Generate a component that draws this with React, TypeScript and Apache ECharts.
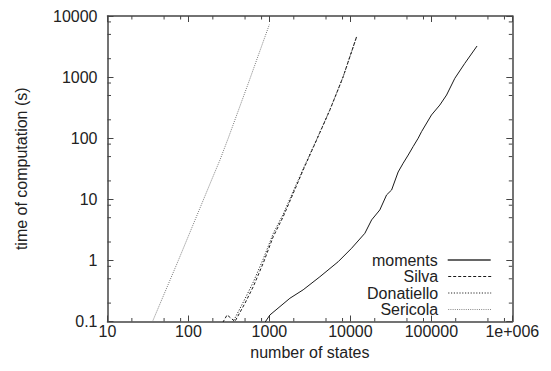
import React, { useEffect, useRef } from 'react';
import * as echarts from 'echarts';

const seriesNames = ['moments', 'Silva', 'Donatiello', 'Sericola'];

const momentsData: number[][] = [
  [800, 0.08], [1015, 0.128], [1790, 0.24], [2610, 0.33], [4200, 0.54], [7060, 0.95],
  [10350, 1.58], [15100, 2.78], [18300, 4.6], [23100, 6.7], [28000, 11.8], [32300, 14.2],
  [38900, 28], [44900, 39], [51800, 53], [59600, 73], [68800, 100], [75700, 128],
  [100400, 240], [127300, 349], [154200, 509], [195000, 955], [259000, 1680], [367000, 3230],
];
const silvaData: number[][] = [
  [200, 0.05], [300, 0.128], [375, 0.1], [499, 0.199], [631, 0.371], [838, 0.9],
  [1114, 2.44], [1479, 5.19], [1967, 12.5], [2612, 30.2], [3828, 93.5], [5585, 290],
  [8147, 1016], [11940, 4580],
];
const donatielloData: number[][] = [
  [350, 0.095], [499, 0.235], [631, 0.44], [838, 1.05], [1114, 2.75], [1479, 5.7],
  [1967, 13.5], [2612, 31.5], [3828, 95], [5585, 292], [8147, 1016], [11940, 4580],
];
const sericolaData: number[][] = [
  [36, 0.1], [75, 1.0], [193, 20.7], [245, 44], [310, 100], [550, 800], [1000, 7300],
];

const xTickLabels = ['10', '100', '1000', '10000', '100000', '1e+006'];
const yTickLabels = ['0.1', '1', '10', '100', '1000', '10000'];
const xMinorTicks = [20, 50, 80, 200, 500, 800, 2000, 5000, 8000, 20000, 50000, 80000, 200000, 500000, 800000];
const yMinorTicks = [0.2, 0.5, 0.8, 2, 5, 8, 20, 50, 80, 200, 500, 800, 2000, 5000, 8000];

const X_MIN = 10, X_MAX = 1000000, Y_MIN = 0.1, Y_MAX = 10000;
const FONT = '"Liberation Sans", Arial, sans-serif';
const AXIS_COLOR = '#444';
const TEXT_COLOR = '#222';

export default function App() {
  const ref = useRef<HTMLDivElement>(null);
  useEffect(() => {
    if (!ref.current) return;
    const chart = echarts.init(ref.current, undefined, { renderer: 'svg' });
    const axisLine = { show: true, onZero: false, lineStyle: { color: AXIS_COLOR, width: 1.5 } };
    const majorTick = { show: true, inside: true, length: 6, lineStyle: { color: AXIS_COLOR, width: 1 } };
    const xBase = { type: 'log', logBase: 10, min: X_MIN, max: X_MAX, splitLine: { show: false }, axisLine, axisTick: majorTick };
    const yBase = { type: 'log', logBase: 10, min: Y_MIN, max: Y_MAX, splitLine: { show: false }, axisLine, axisTick: majorTick };
    const lineColors = ['#1a1a1a', '#1a1a1a', '#2a2a2a', '#777'];
    const legendColors = ['#666', '#1a1a1a', '#2a2a2a', '#888'];
    const legendWidths = [2, 1, 1, 1];
    const lineTypes: any[] = ['solid', [3, 2], [1.2, 1.6], [1, 1.2]];
    const dataSets = [momentsData, silvaData, donatielloData, sericolaData];
    const legendTops = [252, 268.5, 285, 301.5];
    const option: any = {
      animation: false,
      grid: { left: 107.5, right: 38.7, top: 16, bottom: 49.5, show: false },
      legend: seriesNames.map((n, i) => ({
        data: [n], right: 59.3, top: legendTops[i], align: 'right', orient: 'vertical',
        itemWidth: 43, itemHeight: 12, padding: 0, selectedMode: false,
        itemStyle: { opacity: 0 },
        lineStyle: { width: legendWidths[i], color: legendColors[i], type: lineTypes[i] },
        formatter: (name: string) => `{t|${name}}`,
        textStyle: {
          fontSize: 16, color: TEXT_COLOR, fontFamily: FONT,
          rich: { t: { fontSize: 16, color: TEXT_COLOR, fontFamily: FONT, padding: [0, 5, 0, 0] } },
        },
      })),
      xAxis: [
        {
          ...xBase, position: 'bottom',
          name: 'number of states', nameLocation: 'middle', nameGap: 21,
          nameTextStyle: { fontSize: 16, color: TEXT_COLOR, fontFamily: FONT },
          axisLabel: {
            fontSize: 16, color: TEXT_COLOR, fontFamily: FONT, margin: 2,
            formatter: (v: number) => xTickLabels[Math.round(Math.log10(v)) - 1] ?? '',
          },
        },
        { ...xBase, position: 'top', axisLabel: { show: false } },
      ],
      yAxis: [
        {
          ...yBase, position: 'left',
          name: 'time of computation (s)', nameLocation: 'middle', nameGap: 78, nameRotate: 90,
          nameTextStyle: { fontSize: 16, color: TEXT_COLOR, fontFamily: FONT },
          axisLabel: {
            fontSize: 16, color: TEXT_COLOR, fontFamily: FONT, margin: 10,
            formatter: (v: number) => yTickLabels[Math.round(Math.log10(v)) + 1] ?? '',
          },
        },
        { ...yBase, position: 'right', axisLabel: { show: false } },
      ],
      series: [
        ...seriesNames.map((n, i) => ({
          name: n, type: 'line', data: dataSets[i], xAxisIndex: 0, yAxisIndex: 0,
          symbol: 'none', showSymbol: false, clip: true, silent: true,
          lineStyle: { color: lineColors[i], width: 1, type: lineTypes[i] },
          itemStyle: { color: lineColors[i] },
        })),
        {
          type: 'custom', silent: true, xAxisIndex: 0, yAxisIndex: 0,
          data: xMinorTicks.map((v) => [v, Y_MIN]),
          renderItem: (_p: any, api: any) => {
            const v = api.value(0);
            const b = api.coord([v, Y_MIN]);
            const t = api.coord([v, Y_MAX]);
            const st = { stroke: AXIS_COLOR, lineWidth: 1 };
            return {
              type: 'group', children: [
                { type: 'line', shape: { x1: b[0], y1: b[1], x2: b[0], y2: b[1] - 3.5 }, style: st },
                { type: 'line', shape: { x1: t[0], y1: t[1], x2: t[0], y2: t[1] + 3.5 }, style: st },
              ],
            };
          },
        },
        {
          type: 'custom', silent: true, xAxisIndex: 0, yAxisIndex: 0,
          data: yMinorTicks.map((v) => [X_MIN, v]),
          renderItem: (_p: any, api: any) => {
            const v = api.value(1);
            const l = api.coord([X_MIN, v]);
            const r = api.coord([X_MAX, v]);
            const st = { stroke: AXIS_COLOR, lineWidth: 1 };
            return {
              type: 'group', children: [
                { type: 'line', shape: { x1: l[0], y1: l[1], x2: l[0] + 3.5, y2: l[1] }, style: st },
                { type: 'line', shape: { x1: r[0], y1: r[1], x2: r[0] - 3.5, y2: r[1] }, style: st },
              ],
            };
          },
        },
      ],
    };
    chart.setOption(option);
    return () => chart.dispose();
  }, []);
  return (
    <div
      ref={ref}
      style={{ position: 'fixed', left: 0, top: 0, width: 551, height: 371, background: '#fff' }}
    />
  );
}
